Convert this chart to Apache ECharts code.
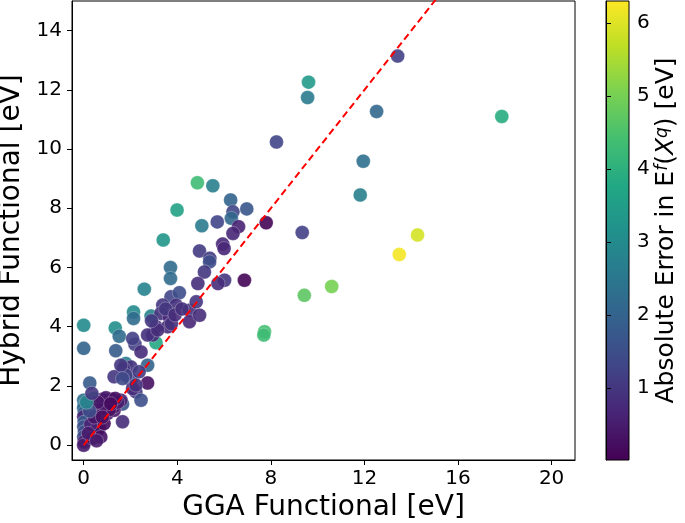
<!DOCTYPE html>
<html>
<head>
<meta charset="utf-8">
<script src="https://cdn.jsdelivr.net/npm/echarts@6/dist/echarts.min.js"></script>
<style>
html,body{margin:0;padding:0;background:#fff;}
#chart{width:685px;height:523px;}
</style>
</head>
<body>
<div id="chart"></div>
<script>
// GGA functional values [eV]
var gga = [
 9.61, 9.57, 8.24, 4.86, 5.52, 3.99, 6.28, 6.97, 6.38, 6.31,
 5.71, 5.05, 6.62, 7.80, 6.38, 9.34, 3.40, 4.95, 5.94, 6.00,
 5.39, 13.42, 12.52, 17.87, 11.95, 11.82, 14.27, 13.49, 10.60, 9.43,
 6.87, 7.73, 7.70, 3.71, 3.71, 2.59, 0.00, 0.00, 1.35, 1.52,
 2.13, 2.13, 2.88, 3.09, 1.37, 2.19, 2.45, 1.80, 2.02, 1.70,
 2.73, 1.30, 2.02, 2.73, 2.23, 2.45, 1.66, 1.66, 0.26, 0.44,
 5.38, 5.16, 4.88, 6.02, 5.74, 3.73, 4.09, 3.95, 3.38, 3.30,
 3.66, 3.09, 2.95, 4.52, 4.81, 4.52, 4.95, 3.59, 2.09,
 0.00, 0.02, 0.00, 0.03, 0.00, 0.02, 0.00, 0.03, 0.00, 0.02,
 0.00, 0.37, 0.66, 0.59, 0.59, 0.87, 0.73, 1.01, 1.30, 0.80,
 1.00, 1.20, 0.90, 1.30, 1.10, 0.70, 1.59, 1.45, 0.50, 0.30,
 0.20, 1.80, 2.09, 2.73, 3.75, 3.16, 1.59, 1.66, 2.37, 2.23,
 3.50, 3.90, 4.20, 2.90,
 0.95, 1.35, 0.60, 1.15, 0.45, 0.80, 0.55, 0.25, 0.12, 0.35
];
// Hybrid functional values [eV]
var hybrid = [
 12.26, 11.74, 10.24, 8.86, 8.76, 7.94, 8.28, 7.98, 7.88, 7.66,
 7.54, 7.41, 7.38, 7.51, 7.15, 7.18, 6.93, 6.56, 6.79, 6.64,
 6.31, 13.14, 11.27, 11.10, 9.59, 8.45, 7.10, 6.44, 5.36, 5.06,
 5.57, 3.83, 3.72, 6.00, 5.63, 5.27, 4.05, 3.27, 3.96, 3.68,
 4.50, 4.28, 4.36, 3.46, 3.19, 3.41, 3.15, 2.76, 2.64, 2.59,
 2.70, 2.31, 2.20, 2.10, 1.80, 1.52, 1.39, 0.79, 2.10, 1.58,
 6.19, 5.85, 5.46, 5.57, 5.46, 5.01, 5.15, 4.73, 4.73, 4.45,
 4.33, 4.00, 3.72, 4.56, 4.84, 4.17, 4.39, 4.00, 3.60,
 1.52, 1.35, 1.25, 1.10, 0.96, 0.78, 0.62, 0.45, 0.28, 0.11,
 0.00, 0.24, 0.57, 0.84, 0.51, 0.73, 0.28, 1.07, 1.18, 1.55,
 1.50, 1.55, 1.35, 1.30, 1.20, 1.20, 1.52, 1.45, 1.00, 0.70,
 0.40, 2.36, 1.91, 3.72, 4.10, 3.89, 2.70, 2.25, 2.48, 2.03,
 4.60, 4.40, 4.60, 4.20,
 1.60, 1.58, 1.45, 1.40, 0.95, 0.95, 0.15, 1.15, 1.45, 1.75
];
// Absolute error in formation energy [eV]
var absErr = [
 3.4, 2.6, 1.3, 4.3, 2.7, 3.6, 2.0, 1.7, 1.3, 2.1,
 1.3, 2.6, 0.6, 0.1, 0.7, 1.2, 3.3, 1.1, 0.7, 0.7,
 1.1, 1.2, 2.1, 3.9, 2.3, 2.7, 5.9, 6.2, 5.0, 4.7,
 0.1, 4.4, 4.3, 2.2, 2.2, 2.8, 3.0, 2.0, 3.1, 2.2,
 3.0, 2.2, 2.8, 3.8, 1.8, 1.2, 0.8, 2.6, 0.9, 0.9,
 2.0, 1.0, 1.3, 0.3, 1.0, 1.5, 1.7, 0.8, 1.8, 4.0,
 1.5, 1.0, 0.8, 1.0, 0.8, 1.3, 1.5, 0.9, 1.0, 0.9,
 0.7, 0.8, 0.8, 0.9, 1.0, 0.7, 0.8, 0.8, 1.2,
 2.3, 2.4, 2.1, 2.0, 0.7, 1.8, 1.6, 1.5, 1.4, 0.4,
 0.5, 0.3, 0.2, 0.5, 0.3, 0.2, 0.3, 0.4, 0.4, 0.5,
 0.4, 0.4, 0.3, 0.5, 0.3, 0.4, 0.6, 0.5, 0.3, 0.6,
 0.5, 1.2, 0.8, 0.9, 0.9, 0.8, 1.0, 1.4, 1.1, 0.9,
 1.0, 0.8, 0.9, 1.0,
 0.4, 0.3, 0.4, 0.2, 0.4, 0.3, 0.5, 1.5, 2.8, 1.0
];
// y = x reference line
var refX = [0, 20];
var refY = [0, 20];
// tick labels
var xTicks = [0, 4, 8, 12, 16, 20];
var yTicks = [0, 2, 4, 6, 8, 10, 12, 14];
var cbTicks = [1, 2, 3, 4, 5, 6];
var errMin = 0.016, errMax = 6.30;

var viridis = ['#440154','#482475','#414487','#355f8d','#2a788e','#21918c','#22a884','#44bf70','#7ad151','#bddf26','#fde725'];

var points = gga.map(function (x, i) { return [x, hybrid[i], absErr[i]]; });
var lineData = refX.map(function (x, i) { return [x, refY[i]]; });

var FONT = 'DejaVu Sans';
var chart = echarts.init(document.getElementById('chart'), null, {renderer: 'canvas'});

var gradStops = viridis.map(function (c, i) { return {offset: i / (viridis.length - 1), color: c}; });

chart.setOption({
  backgroundColor: '#fff',
  animation: false,
  textStyle: {fontFamily: FONT},
  grid: [
    {left: 72, top: 1, width: 503, height: 459, show: true, borderColor: '#000', borderWidth: 1,
      backgroundColor: '#fff', outerBoundsMode: 'none', containLabel: false},
    {left: 606, top: 1, width: 23, height: 459, show: true, borderColor: '#000', borderWidth: 1,
      outerBoundsMode: 'none', containLabel: false,
      backgroundColor: new echarts.graphic.LinearGradient(0, 1, 0, 0, gradStops)}
  ],
  visualMap: [{
    type: 'continuous', show: false, min: errMin, max: errMax, dimension: 2, seriesIndex: 0,
    inRange: {color: viridis}
  }],
  xAxis: [
    {type: 'value', gridIndex: 0, min: -0.5, max: 21.0,
      name: 'GGA Functional [eV]', nameLocation: 'middle', nameGap: 30,
      nameTextStyle: {fontSize: 28, color: '#000', fontFamily: FONT},
      axisLine: {show: true, onZero: false, lineStyle: {color: '#000', width: 1}},
      axisTick: {show: true, length: 5, customValues: xTicks, lineStyle: {color: '#000'}},
      axisLabel: {customValues: xTicks, fontSize: 20, color: '#000', margin: 9, fontFamily: FONT},
      splitLine: {show: false}},
    {type: 'value', gridIndex: 1, min: 0, max: 1, show: false}
  ],
  yAxis: [
    {type: 'value', gridIndex: 0, min: -0.5, max: 15.0,
      name: 'Hybrid Functional [eV]', nameLocation: 'middle', nameGap: 42, nameRotate: 90,
      nameTextStyle: {fontSize: 28, color: '#000', fontFamily: FONT},
      axisLine: {show: true, onZero: false, lineStyle: {color: '#000', width: 1}},
      axisTick: {show: true, length: 5, customValues: yTicks, lineStyle: {color: '#000'}},
      axisLabel: {customValues: yTicks, fontSize: 20, color: '#000', margin: 10, fontFamily: FONT},
      splitLine: {show: false}},
    {type: 'value', gridIndex: 1, min: errMin, max: errMax, position: 'right',
      name: 'Absolute Error in E{sup|f}({it|X}{sup|q}) [eV]', nameLocation: 'middle', nameGap: 30, nameRotate: 90,
      nameTextStyle: {fontSize: 25, color: '#000', fontFamily: FONT, verticalAlign: 'bottom',
        rich: {
          sup: {fontSize: 17, fontStyle: 'italic', fontFamily: FONT, color: '#000', verticalAlign: 'top'},
          it: {fontSize: 25, fontStyle: 'italic', fontFamily: FONT, color: '#000'}
        }},
      axisLine: {show: true, lineStyle: {color: '#000', width: 1}},
      axisTick: {show: true, length: 5, customValues: cbTicks, lineStyle: {color: '#000'}},
      axisLabel: {customValues: cbTicks, fontSize: 20, color: '#000', margin: 8, fontFamily: FONT},
      splitLine: {show: false}}
  ],
  series: [
    {type: 'scatter', xAxisIndex: 0, yAxisIndex: 0, data: points, symbolSize: 14,
      itemStyle: {opacity: 0.9, borderColor: 'rgba(255,255,255,0.6)', borderWidth: 0.5}, z: 2, silent: true},
    {type: 'line', xAxisIndex: 0, yAxisIndex: 0, data: lineData, symbol: 'none', clip: true,
      lineStyle: {color: '#ff0000', width: 2, type: [7, 4]}, z: 3, silent: true},
    {type: 'scatter', xAxisIndex: 1, yAxisIndex: 1, data: [], silent: true}
  ]
});
</script>
</body>
</html>
